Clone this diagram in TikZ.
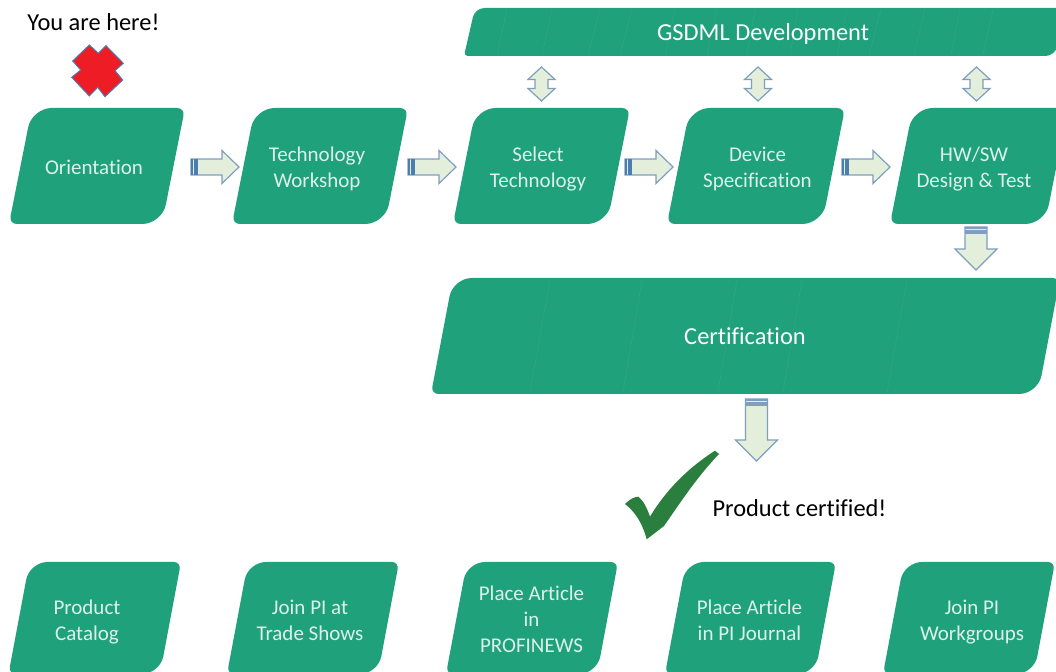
\documentclass[tikz,border=0pt]{standalone}
\usepackage{fontspec}
\setmainfont[Ligatures=CommonOff]{Carlito}
\definecolor{boxgreen}{HTML}{1FA17C}
\definecolor{seamgreen}{HTML}{2DA785}
\definecolor{boxtext}{HTML}{DCF1EA}
\definecolor{arrowfill}{HTML}{E3EFDB}
\definecolor{arrowline}{HTML}{7F9FC0}
\definecolor{arrowtail}{HTML}{4A7EB0}
\definecolor{crossred}{HTML}{EE1C25}
\definecolor{checkgreen}{HTML}{2A7F3E}
% Parallelogramme : gauche, droite, haut, bas, decalage
\newcommand{\databox}[5]{%
  \fill[boxgreen] ({(#1+#2+#5)/2},#3) [rounded corners=#5*0.17pt] -- (#2,#3) [rounded corners=#5*0.43pt] -- (#2-#5,#4) [rounded corners=#5*0.17pt] -- (#1,#4) [rounded corners=#5*0.43pt] -- (#1+#5,#3) -- cycle;}
\tikzset{
  steptext/.style={text=boxtext, align=center, font=\fontsize{10.5}{13}\selectfont},
  widetext/.style={text=white, font=\fontsize{12.2}{14}\selectfont},
  notetext/.style={text=black, font=\fontsize{12.2}{14}\selectfont},
  seam/.style={seamgreen, line width=0.3pt},
  blockarrow/.style={fill=arrowfill, draw=arrowline, line width=0.6pt, line join=miter},
  pics/arrowright/.style={code={
    \draw[blockarrow] (0,-8) -- (31,-8) -- (31,-16.5) -- (48,0) -- (31,16.5) -- (31,8) -- (0,8) -- cycle;
    \fill[arrowtail] (0,-8) rectangle (2,8);
    \fill[arrowtail] (3,-8) rectangle (7,8);
  }},
  pics/arrowdown/.style={code={
    \draw[blockarrow] (-11,0) -- (11,0) -- (11,#1) -- (21,#1) -- (0,#1+21) -- (-21,#1) -- (-11,#1) -- cycle;
    \fill[arrowline] (-11,0) rectangle (11,2);
    \fill[arrowline] (-11,3.5) rectangle (11,7);
  }},
  pics/arrowboth/.style={code={
    \draw[blockarrow] (0,-17) -- (13.5,-4.5) -- (6.5,-4.5) -- (6.5,4.5) -- (13.5,4.5) -- (0,17) -- (-13.5,4.5) -- (-6.5,4.5) -- (-6.5,-4.5) -- (-13.5,-4.5) -- cycle;
  }}
}
\begin{document}
\begin{tikzpicture}[x=0.5pt, y=-0.5pt]
\clip (0,0) rectangle (1056,672);
\fill[white] (0,0) rectangle (1056,672);
% Bandeau du haut
\databox{464}{1066}{8}{56}{11}
\foreach \a/\b in {497/507, 542/552, 588/600, 620/632, 665/675, 707/717, 747/755, 790/798, 837/847, 869/881, 914/925, 951/960, 983/993}
  \draw[seam] (\a,55) -- (\b,9);
\node[widetext] (gsdml) at (763,34) {GSDML Development};
% Etapes
\databox{9}{185}{108}{224}{23}
\databox{232}{408}{108}{224}{23}
\databox{453}{630}{108}{224}{23}
\databox{667}{845}{108}{224}{23}
\databox{890}{1068}{108}{224}{23}
\node[steptext] (orientation) at (94,167) {Orientation};
\node[steptext] (workshop) at (317,169) {Technology\\Workshop};
\node[steptext] (select) at (538,169) {Select\\Technology};
\node[steptext] (device) at (757.5,169) {Device\\Specification};
\node[steptext] (design) at (974,169) {HW/SW\\Design \& Test};
% Certification
\databox{431}{1060}{278}{394}{22}
\foreach \a/\b in {530/550, 623/642, 718/737, 783/802, 887/907}
  \draw[seam] (\a,392) -- (\b,280);
\node[widetext] (certification) at (745,336) {Certification};
% Fleches
\pic at (191,167) {arrowright};
\pic at (408,167) {arrowright};
\pic at (625,167) {arrowright};
\pic at (842,167) {arrowright};
\pic at (541.5,84) {arrowboth};
\pic at (758,84) {arrowboth};
\pic at (976.5,84) {arrowboth};
\pic at (976,227) {arrowdown=22};
\pic at (756.5,399) {arrowdown=41};
% Croix rouge
\draw[fill=crossred, draw=arrowtail, line width=0.5pt] (89.3,45) -- (98.3,53.3) -- (106,45.7) -- (123.3,63.3) -- (115,70.7) -- (122.7,80) -- (105,96.7) -- (97.7,87.3) -- (89.3,96) -- (71.7,77.3) -- (80.7,70) -- (72.7,61) -- cycle;
\node[notetext] (here) at (93.5,22) {You are here!};
% Coche
\fill[checkgreen] (625,504) .. controls (630,499) and (634,497) .. (638.3,496.7) .. controls (643,500) and (647,508) .. (650,516.7) .. controls (666,490) and (688,468) .. (715,450.7) -- (719,454) .. controls (697,477) and (680,503) .. (664,526) -- (646.7,539.3) .. controls (642,522) and (635,512) .. (625,504) -- cycle;
\node[notetext] (certified) at (799.5,508) {Product certified!};
% Rangee du bas
\databox{8.5}{181}{562}{674}{21}
\databox{227}{399}{562}{674}{21}
\databox{446}{618}{562}{674}{21}
\databox{665}{836}{562}{674}{21}
\databox{883}{1055}{562}{674}{21}
\node[steptext] (catalog) at (87,622) {Product\\Catalog};
\node[steptext] (shows) at (310,620) {Join PI at\\Trade Shows};
\node[steptext] (news) at (531.5,619) {Place Article\\in\\PROFINEWS};
\node[steptext] (journal) at (749.5,620) {Place Article\\in PI Journal};
\node[steptext] (groups) at (972,622) {Join PI\\Workgroups};
\end{tikzpicture}
\end{document}
